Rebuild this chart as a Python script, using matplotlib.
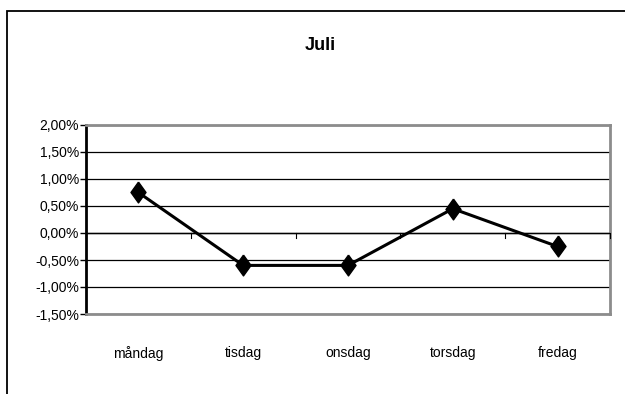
import numpy as np
import matplotlib
matplotlib.use("Agg")
from matplotlib import pyplot as plt
from matplotlib.patches import Rectangle
from matplotlib.ticker import FuncFormatter

days = ["måndag", "tisdag", "onsdag", "torsdag", "fredag"]
returns = [0.75, -0.6, -0.6, 0.45, -0.25]  # percent
y_ticks = [-1.5, -1.0, -0.5, 0.0, 0.5, 1.0, 1.5, 2.0]

plt.rcParams['font.family'] = ['Liberation Sans', 'DejaVu Sans']

W, H = 625, 394
fig = plt.figure(figsize=(W / 100, H / 100), dpi=100)

# chart area border, only the left and top edges fall inside the canvas
fig.patches.append(Rectangle((6.5 / W, -0.2), 1.5, 1.2 - 10.5 / H, transform=fig.transFigure,
                             fill=False, edgecolor='black', linewidth=1.3))

left, right, top, bottom = 86, 610, 125, 314
ax = fig.add_axes([left / W, 1 - bottom / H, (right - left) / W, (bottom - top) / H])

x = np.arange(len(days))
diamond = [(0, 1), (0.72, 0), (0, -1), (-0.72, 0), (0, 1)]
ax.plot(x, returns, color='black', linewidth=2.2, marker=diamond, markersize=15,
        markerfacecolor='black', markeredgecolor='black', zorder=5, clip_on=False)

ax.set_xlim(-0.5, len(days) - 0.5)
ax.set_ylim(y_ticks[0], y_ticks[-1])
ax.set_yticks(y_ticks)
ax.yaxis.set_major_formatter(FuncFormatter(lambda v, _: f"{v:.2f}%".replace('.', ',')))
ax.yaxis.grid(True, color='black', linewidth=0.9)
ax.set_axisbelow(True)
ax.tick_params(axis='y', length=4, width=1, labelsize=10, pad=1, colors='black')

# category axis drawn at zero, ticks between categories
ax.set_xticks(x)
ax.set_xticklabels(days, fontsize=10)
ax.tick_params(axis='x', length=0, pad=23)
ax.axhline(0, color='black', linewidth=1, zorder=3)
for b in np.arange(-0.5, len(days)):
    ax.plot([b, b], [0, -0.1], color='black', linewidth=0.8, clip_on=False, zorder=3)

for side in ['top', 'right', 'bottom']:
    ax.spines[side].set_color('#8c8c8c')
    ax.spines[side].set_linewidth(2)
ax.spines['left'].set_color('black')
ax.spines['left'].set_linewidth(2)

fig.text(320 / W, 1 - 45 / H, "Juli", ha='center', va='center', fontsize=13, fontweight='bold')

fig.savefig("out.png", dpi=100)
